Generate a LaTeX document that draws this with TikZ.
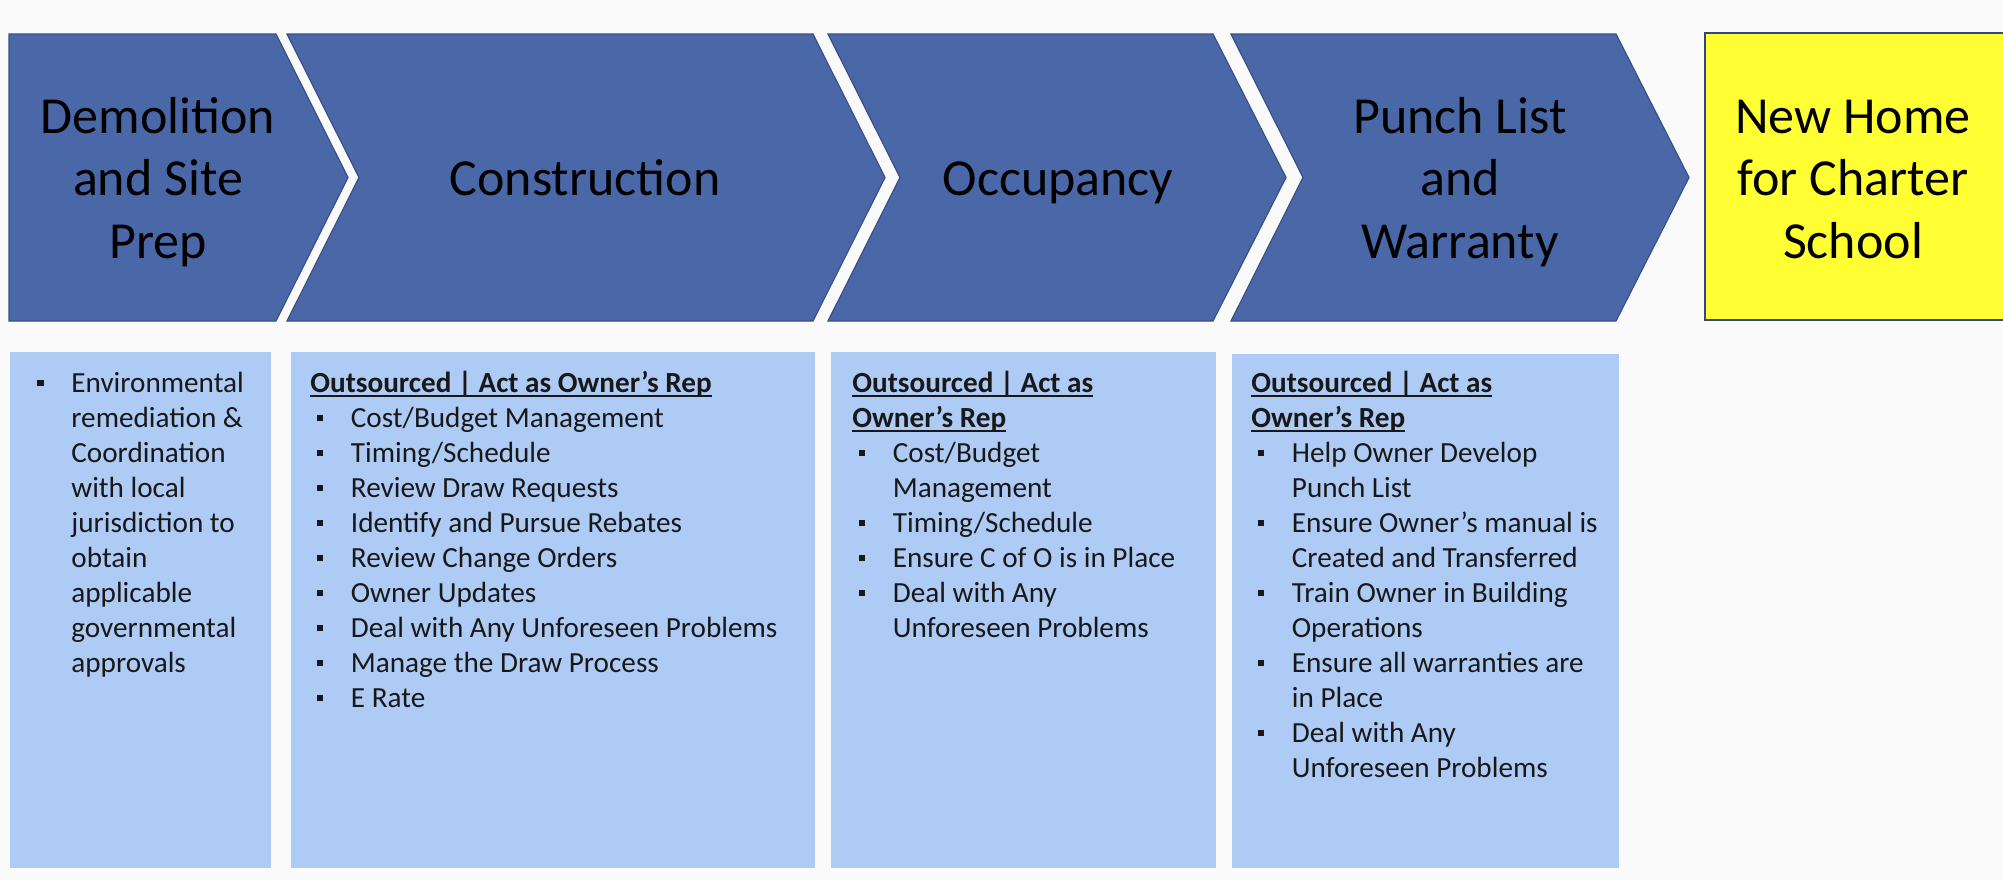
\documentclass[tikz,border=0pt]{standalone}
\usepackage{fontspec}
\setmainfont{Carlito}
\definecolor{chev}{RGB}{74,103,168}
\definecolor{chevline}{RGB}{55,80,135}
\definecolor{note}{RGB}{174,203,246}
\definecolor{goal}{RGB}{255,255,51}
\definecolor{goalline}{RGB}{50,70,130}
\definecolor{ink}{RGB}{24,24,24}
% square bullet and list indents
\newcommand\sqbul{\rule[2.8pt]{3.2pt}{3.2pt}}
\newcommand\bitem{\makebox[20.25pt][l]{\hspace*{3.25pt}\sqbul}}
\newcommand\bcont{\hspace*{20.25pt}}
% bold heading with a heavier underline
\newsavebox\headbox
\newcommand\rephead[1]{\sbox\headbox{\bfseries #1}\rlap{\rule[-2.4pt]{\wd\headbox}{1.1pt}}\usebox\headbox}
\begin{document}
\begin{tikzpicture}[x=0.5pt,y=-0.5pt,
  stage/.style={fill=chev,draw=chevline,line width=0.6pt},
  notebox/.style={fill=note},
  stagelabel/.style={anchor=base,inner sep=0pt,font=\fontsize{26}{31.25}\selectfont,text=black},
  notetext/.style={anchor=base west,inner sep=0pt,font=\fontsize{14.6}{17.5}\selectfont,text=ink}]
\useasboundingbox (0,0) rectangle (2003,880);
\fill[white!98!black] (0,0) rectangle (2003,880);

% process chevrons
\path[stage] (9,34) -- (276,34) -- (348,177.5) -- (276,321) -- (9,321) -- cycle;
\path[stage] (287,34) -- (813,34) -- (885,177.5) -- (813,321) -- (287,321) -- (359,177.5) -- cycle;
\path[stage] (828,34) -- (1213,34) -- (1286,177.5) -- (1213,321) -- (828,321) -- (900,177.5) -- cycle;
\path[stage] (1231,34) -- (1616,34) -- (1689,177.5) -- (1616,321) -- (1231,321) -- (1303,177.5) -- cycle;

% goal box
\fill[goal] (1705,33) rectangle (2003,320);
\draw[goalline,line width=1.4pt] (2003,33) -- (1705,33) -- (1705,320) -- (2003,320);

\node[stagelabel] (demo) at (158,133) {\begin{tabular}[t]{@{}c@{}}Demolition\\and Site\\Prep\end{tabular}};
\node[stagelabel] (cons) at (585,195) {Construction};
\node[stagelabel] (occu) at (1058,195) {Occupancy};
\node[stagelabel] (punch) at (1460,133) {\begin{tabular}[t]{@{}c@{}}Punch List\\and\\Warranty\end{tabular}};
\node[stagelabel] (home) at (1853,133) {\begin{tabular}[t]{@{}c@{}}New Home\\for Charter\\School\end{tabular}};

% detail panels
\fill[notebox] (10,352) rectangle (271,868);
\fill[notebox] (291,352) rectangle (815,868);
\fill[notebox] (831,352) rectangle (1216,868);
\fill[notebox] (1232,354) rectangle (1619,868);

\node[notetext] (d1) at (30.5,392) {\begin{tabular}[t]{@{}l@{}}
\bitem Environmental\\
\bcont remediation \&\\
\bcont Coordination\\
\bcont with local\\
\bcont jurisdiction to\\
\bcont obtain\\
\bcont applicable\\
\bcont governmental\\
\bcont approvals
\end{tabular}};

\node[notetext] (d2) at (310,392) {\begin{tabular}[t]{@{}l@{}}
\rephead{Outsourced | Act as Owner’s Rep}\\
\bitem Cost/Budget Management\\
\bitem Timing/Schedule\\
\bitem Review Draw Requests\\
\bitem Identify and Pursue Rebates\\
\bitem Review Change Orders\\
\bitem Owner Updates\\
\bitem Deal with Any Unforeseen Problems\\
\bitem Manage the Draw Process\\
\bitem E Rate
\end{tabular}};

\node[notetext] (d3) at (852,392) {\begin{tabular}[t]{@{}l@{}}
\rephead{Outsourced | Act as}\\
\rephead{Owner’s Rep}\\
\bitem Cost/Budget\\
\bcont Management\\
\bitem Timing/Schedule\\
\bitem Ensure C of O is in Place\\
\bitem Deal with Any\\
\bcont Unforeseen Problems
\end{tabular}};

\node[notetext] (d4) at (1251,392) {\begin{tabular}[t]{@{}l@{}}
\rephead{Outsourced | Act as}\\
\rephead{Owner’s Rep}\\
\bitem Help Owner Develop\\
\bcont Punch List\\
\bitem Ensure Owner’s manual is\\
\bcont Created and Transferred\\
\bitem Train Owner in Building\\
\bcont Operations\\
\bitem Ensure all warranties are\\
\bcont in Place\\
\bitem Deal with Any\\
\bcont Unforeseen Problems
\end{tabular}};
\end{tikzpicture}
\end{document}
